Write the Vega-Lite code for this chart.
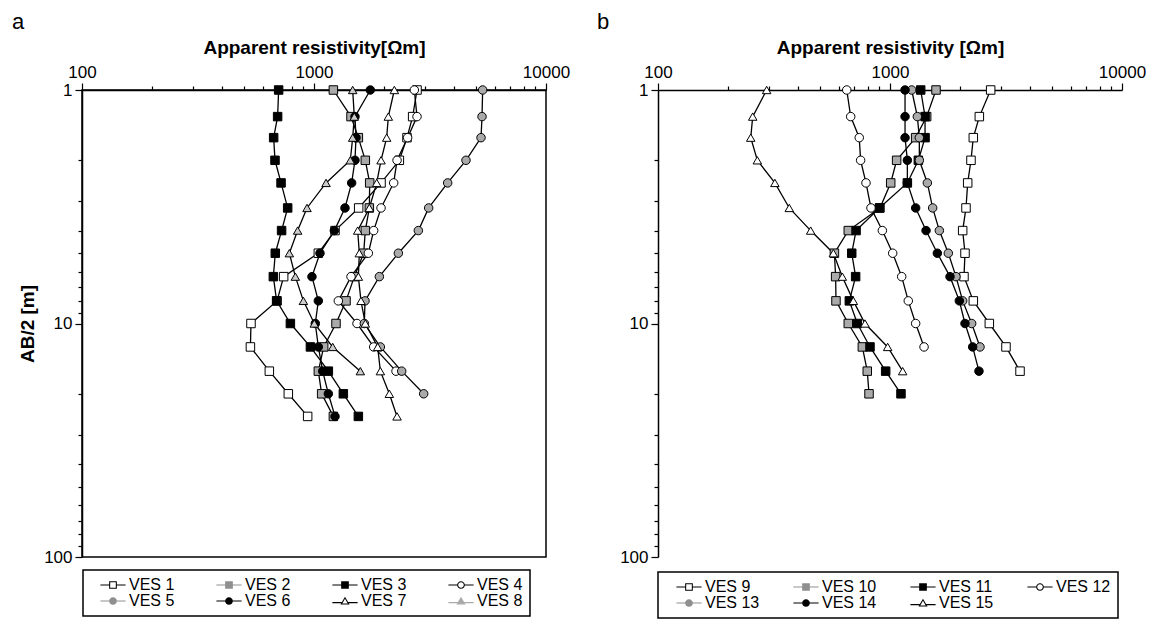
{
  "$schema": "https://vega.github.io/schema/vega-lite/v6.json",
  "padding": {"left": 11, "top": 10, "right": 0, "bottom": 0},
  "config": {
    "font": "Liberation Sans",
    "view": {"stroke": null},
    "concat": {"spacing": 26},
    "axis": {
      "grid": false, "domainColor": "black", "domainWidth": 1.5, "tickColor": "black", "tickWidth": 1.2,
      "labelColor": "black", "labelFontSize": 17, "labelFont": "Liberation Sans", "labelFlush": false, "labelOverlap": false, "labelBound": false,
      "titleColor": "black", "titleFont": "Liberation Sans", "titleFontSize": 19, "titleFontWeight": "bold"
    },
    "legend": {
      "orient": "none", "columns": 4, "direction": "horizontal", "strokeColor": "black", "strokeWidth": 1.5, "padding": 7,
      "labelFontSize": 16, "labelFont": "Liberation Sans", "labelColor": "black", "symbolSize": 49, "symbolStrokeWidth": 0, "symbolStrokeColor": "transparent",
      "symbolOpacity": 1, "rowPadding": 0
    }
  },
  "datasets": {
    "a": [
      {"s":"VES 1","ab":1,"rho":2780},{"s":"VES 1","ab":1.3,"rho":2662},{"s":"VES 1","ab":1.6,"rho":2517},{"s":"VES 1","ab":2,"rho":2333},{"s":"VES 1","ab":2.5,"rho":1945},{"s":"VES 1","ab":3.2,"rho":1558},{"s":"VES 1","ab":4,"rho":1232},{"s":"VES 1","ab":5,"rho":1044},{"s":"VES 1","ab":6.3,"rho":740},{"s":"VES 1","ab":8,"rho":693},{"s":"VES 1","ab":10,"rho":535},{"s":"VES 1","ab":12.6,"rho":532},{"s":"VES 1","ab":16,"rho":642},{"s":"VES 1","ab":20,"rho":775},{"s":"VES 1","ab":25,"rho":939},
      {"s":"VES 2","ab":1,"rho":1212},{"s":"VES 2","ab":1.3,"rho":1444},{"s":"VES 2","ab":1.6,"rho":1553},{"s":"VES 2","ab":2,"rho":1664},{"s":"VES 2","ab":2.5,"rho":1738},{"s":"VES 2","ab":3.2,"rho":1732},{"s":"VES 2","ab":4,"rho":1664},{"s":"VES 2","ab":5,"rho":1637},{"s":"VES 2","ab":6.3,"rho":1492},{"s":"VES 2","ab":8,"rho":1374},{"s":"VES 2","ab":10,"rho":1244},{"s":"VES 2","ab":12.6,"rho":1101},{"s":"VES 2","ab":16,"rho":1044},{"s":"VES 2","ab":20,"rho":1079},{"s":"VES 2","ab":25,"rho":1212},
      {"s":"VES 3","ab":1,"rho":704},{"s":"VES 3","ab":1.3,"rho":697},{"s":"VES 3","ab":1.6,"rho":670},{"s":"VES 3","ab":2,"rho":679},{"s":"VES 3","ab":2.5,"rho":721},{"s":"VES 3","ab":3.2,"rho":770},{"s":"VES 3","ab":4,"rho":725},{"s":"VES 3","ab":5,"rho":681},{"s":"VES 3","ab":6.3,"rho":668},{"s":"VES 3","ab":8,"rho":690},{"s":"VES 3","ab":10,"rho":791},{"s":"VES 3","ab":12.6,"rho":965},{"s":"VES 3","ab":16,"rho":1153},{"s":"VES 3","ab":20,"rho":1338},{"s":"VES 3","ab":25,"rho":1553},
      {"s":"VES 4","ab":1,"rho":2707},{"s":"VES 4","ab":1.3,"rho":2780},{"s":"VES 4","ab":1.6,"rho":2533},{"s":"VES 4","ab":2,"rho":2280},{"s":"VES 4","ab":2.5,"rho":2205},{"s":"VES 4","ab":3.2,"rho":1945},{"s":"VES 4","ab":4,"rho":1808},{"s":"VES 4","ab":5,"rho":1715},{"s":"VES 4","ab":6.3,"rho":1444},{"s":"VES 4","ab":8,"rho":1273},{"s":"VES 4","ab":10,"rho":1532},{"s":"VES 4","ab":12.6,"rho":1808},{"s":"VES 4","ab":16,"rho":2257},
      {"s":"VES 5","ab":1,"rho":5333},{"s":"VES 5","ab":1.3,"rho":5299},{"s":"VES 5","ab":1.6,"rho":5247},{"s":"VES 5","ab":2,"rho":4520},{"s":"VES 5","ab":2.5,"rho":3768},{"s":"VES 5","ab":3.2,"rho":3121},{"s":"VES 5","ab":4,"rho":2817},{"s":"VES 5","ab":5,"rho":2310},{"s":"VES 5","ab":6.3,"rho":1913},{"s":"VES 5","ab":8,"rho":1659},{"s":"VES 5","ab":10,"rho":1648},{"s":"VES 5","ab":12.6,"rho":1932},{"s":"VES 5","ab":16,"rho":2388},{"s":"VES 5","ab":20,"rho":2970},
      {"s":"VES 6","ab":1,"rho":1749},{"s":"VES 6","ab":1.3,"rho":1502},{"s":"VES 6","ab":1.6,"rho":1517},{"s":"VES 6","ab":2,"rho":1502},{"s":"VES 6","ab":2.5,"rho":1453},{"s":"VES 6","ab":3.2,"rho":1360},{"s":"VES 6","ab":4,"rho":1224},{"s":"VES 6","ab":5,"rho":1061},{"s":"VES 6","ab":6.3,"rho":980},{"s":"VES 6","ab":8,"rho":1044},{"s":"VES 6","ab":10,"rho":1013},{"s":"VES 6","ab":12.6,"rho":1044},{"s":"VES 6","ab":16,"rho":1090},{"s":"VES 6","ab":20,"rho":1153},{"s":"VES 6","ab":25,"rho":1232},
      {"s":"VES 7","ab":1,"rho":2220},{"s":"VES 7","ab":1.3,"rho":2091},{"s":"VES 7","ab":1.6,"rho":2057},{"s":"VES 7","ab":2,"rho":1945},{"s":"VES 7","ab":2.5,"rho":1863},{"s":"VES 7","ab":3.2,"rho":1732},{"s":"VES 7","ab":4,"rho":1543},{"s":"VES 7","ab":5,"rho":1568},{"s":"VES 7","ab":6.3,"rho":1553},{"s":"VES 7","ab":8,"rho":1594},{"s":"VES 7","ab":10,"rho":1664},{"s":"VES 7","ab":12.6,"rho":1881},{"s":"VES 7","ab":16,"rho":1932},{"s":"VES 7","ab":20,"rho":2112},{"s":"VES 7","ab":25,"rho":2280},
      {"s":"VES 8","ab":1,"rho":1468},{"s":"VES 8","ab":1.3,"rho":1492},{"s":"VES 8","ab":1.6,"rho":1468},{"s":"VES 8","ab":2,"rho":1434},{"s":"VES 8","ab":2.5,"rho":1127},{"s":"VES 8","ab":3.2,"rho":933},{"s":"VES 8","ab":4,"rho":850},{"s":"VES 8","ab":5,"rho":783},{"s":"VES 8","ab":6.3,"rho":831},{"s":"VES 8","ab":8,"rho":900},{"s":"VES 8","ab":10,"rho":1003},{"s":"VES 8","ab":12.6,"rho":1204},{"s":"VES 8","ab":16,"rho":1584}
    ],
    "b": [
      {"s":"VES 9","ab":1,"rho":2716},{"s":"VES 9","ab":1.3,"rho":2427},{"s":"VES 9","ab":1.6,"rho":2286},{"s":"VES 9","ab":2,"rho":2234},{"s":"VES 9","ab":2.5,"rho":2162},{"s":"VES 9","ab":3.2,"rho":2126},{"s":"VES 9","ab":4,"rho":2057},{"s":"VES 9","ab":5,"rho":2105},{"s":"VES 9","ab":6.3,"rho":2084},{"s":"VES 9","ab":8,"rho":2286},{"s":"VES 9","ab":10,"rho":2680},{"s":"VES 9","ab":12.6,"rho":3162},{"s":"VES 9","ab":16,"rho":3635},
      {"s":"VES 10","ab":1,"rho":1579},{"s":"VES 10","ab":1.3,"rho":1439},{"s":"VES 10","ab":1.6,"rho":1290},{"s":"VES 10","ab":2,"rho":1068},{"s":"VES 10","ab":2.5,"rho":1007},{"s":"VES 10","ab":3.2,"rho":905},{"s":"VES 10","ab":4,"rho":661},{"s":"VES 10","ab":5,"rho":576},{"s":"VES 10","ab":6.3,"rho":583},{"s":"VES 10","ab":8,"rho":585},{"s":"VES 10","ab":10,"rho":661},{"s":"VES 10","ab":12.6,"rho":760},{"s":"VES 10","ab":16,"rho":798},{"s":"VES 10","ab":20,"rho":812},
      {"s":"VES 11","ab":1,"rho":1356},{"s":"VES 11","ab":1.3,"rho":1416},{"s":"VES 11","ab":1.6,"rho":1416},{"s":"VES 11","ab":2,"rho":1325},{"s":"VES 11","ab":2.5,"rho":1188},{"s":"VES 11","ab":3.2,"rho":900},{"s":"VES 11","ab":4,"rho":714},{"s":"VES 11","ab":5,"rho":684},{"s":"VES 11","ab":6.3,"rho":711},{"s":"VES 11","ab":8,"rho":668},{"s":"VES 11","ab":10,"rho":723},{"s":"VES 11","ab":12.6,"rho":820},{"s":"VES 11","ab":16,"rho":958},{"s":"VES 11","ab":20,"rho":1115},
      {"s":"VES 12","ab":1,"rho":651},{"s":"VES 12","ab":1.3,"rho":677},{"s":"VES 12","ab":1.6,"rho":737},{"s":"VES 12","ab":2,"rho":747},{"s":"VES 12","ab":2.5,"rho":788},{"s":"VES 12","ab":3.2,"rho":828},{"s":"VES 12","ab":4,"rho":927},{"s":"VES 12","ab":5,"rho":1027},{"s":"VES 12","ab":6.3,"rho":1123},{"s":"VES 12","ab":8,"rho":1199},{"s":"VES 12","ab":10,"rho":1290},{"s":"VES 12","ab":12.6,"rho":1402},
      {"s":"VES 13","ab":1,"rho":1240},{"s":"VES 13","ab":1.3,"rho":1312},{"s":"VES 13","ab":1.6,"rho":1338},{"s":"VES 13","ab":2,"rho":1338},{"s":"VES 13","ab":2.5,"rho":1449},{"s":"VES 13","ab":3.2,"rho":1527},{"s":"VES 13","ab":4,"rho":1632},{"s":"VES 13","ab":5,"rho":1784},{"s":"VES 13","ab":6.3,"rho":1925},{"s":"VES 13","ab":8,"rho":2057},{"s":"VES 13","ab":10,"rho":2249},{"s":"VES 13","ab":12.6,"rho":2443},
      {"s":"VES 14","ab":1,"rho":1161},{"s":"VES 14","ab":1.3,"rho":1161},{"s":"VES 14","ab":1.6,"rho":1161},{"s":"VES 14","ab":2,"rho":1188},{"s":"VES 14","ab":2.5,"rho":1188},{"s":"VES 14","ab":3.2,"rho":1290},{"s":"VES 14","ab":4,"rho":1430},{"s":"VES 14","ab":5,"rho":1600},{"s":"VES 14","ab":6.3,"rho":1814},{"s":"VES 14","ab":8,"rho":1990},{"s":"VES 14","ab":10,"rho":2105},{"s":"VES 14","ab":12.6,"rho":2271},{"s":"VES 14","ab":16,"rho":2418},
      {"s":"VES 15","ab":1,"rho":294},{"s":"VES 15","ab":1.3,"rho":256},{"s":"VES 15","ab":1.6,"rho":251},{"s":"VES 15","ab":2,"rho":268},{"s":"VES 15","ab":2.5,"rho":319},{"s":"VES 15","ab":3.2,"rho":368},{"s":"VES 15","ab":4,"rho":455},{"s":"VES 15","ab":5,"rho":570},{"s":"VES 15","ab":6.3,"rho":623},{"s":"VES 15","ab":8,"rho":695},{"s":"VES 15","ab":10,"rho":780},{"s":"VES 15","ab":12.6,"rho":977},{"s":"VES 15","ab":16,"rho":1134}
    ]
  },
  "hconcat": [
    {
      "width": 464, "height": 467,
      "view": {"stroke": "black", "strokeWidth": 1.5},
      "title": {"text": "a", "anchor": "start", "frame": "group", "dx": -70, "fontSize": 22, "fontWeight": "normal", "color": "black", "offset": 4},
      "data": {"name": "a"},
      "encoding": {
        "x": {"field": "rho", "type": "quantitative", "scale": {"type": "log", "domain": [100, 10000]},
          "axis": {"orient": "top", "values": [100,200,300,400,500,600,700,800,900,1000,2000,3000,4000,5000,6000,7000,8000,9000,10000],
            "labelExpr": "(datum.value==100||datum.value==1000||datum.value==10000) ? format(datum.value,'d') : ''",
            "tickSize": {"condition": {"test": "datum.value==100||datum.value==1000||datum.value==10000", "value": 7}, "value": 4},
            "labelPadding": 2, "title": "Apparent resistivity[Ωm]", "titlePadding": 6}},
        "y": {"field": "ab", "type": "quantitative", "scale": {"type": "log", "domain": [1, 100], "reverse": true},
          "axis": {"values": [1,2,3,4,5,6,7,8,9,10,20,30,40,50,60,70,80,90,100],
            "labelExpr": "(datum.value==1||datum.value==10||datum.value==100) ? format(datum.value,'d') : ''",
            "tickSize": {"condition": {"test": "datum.value==1||datum.value==10||datum.value==100", "value": 7}, "value": 4},
            "labelPadding": 3, "title": "AB/2 [m]", "titlePadding": 6}}
      },
      "layer": [
        {"mark": {"type": "line", "color": "black", "strokeWidth": 1.3}, "encoding": {"detail": {"field": "s"}, "order": {"field": "ab", "type": "quantitative"}}},
        {"mark": {"type": "point", "filled": true, "size": 72, "stroke": "black", "strokeWidth": 1, "opacity": 1},
          "encoding": {
            "shape": {"field": "s", "type": "nominal", "legend": null, "scale": {"domain": ["VES 1","VES 2","VES 3","VES 4","VES 5","VES 6","VES 7","VES 8"], "range": ["square","square","square","circle","circle","circle","triangle-up","triangle-up"]}},
            "fill": {"field": "s", "type": "nominal", "legend": null, "scale": {"domain": ["VES 1","VES 2","VES 3","VES 4","VES 5","VES 6","VES 7","VES 8"], "range": ["white","#aaaaaa","black","white","#aaaaaa","black","white","#cccccc"]}}
          }},
        {"transform": [{"filter": "false"}],
          "mark": {"type": "point", "filled": true, "opacity": 1},
          "encoding": {
            "shape": {"field": "s", "type": "nominal",
              "legend": {"title": null, "legendX": 1, "legendY": 480, "columnPadding": 31, "symbolOffset": 15, "labelOffset": 8},
              "scale": {"domain": ["VES 1","VES 2","VES 3","VES 4","VES 5","VES 6","VES 7","VES 8"],
                "range": [
                  "M-1.1,-1.1H1.1V1.1H-1.1ZM-0.8,-0.8V0.8H0.8V-0.8ZM-3.6,-0.17H-1.1V0.17H-3.6ZM1.1,-0.17H3.6V0.17H1.1Z",
                  "M-1.1,-1.1H1.1V1.1H-1.1ZM-3.6,-0.17H-1.1V0.17H-3.6ZM1.1,-0.17H3.6V0.17H1.1Z",
                  "M-1.1,-1.1H1.1V1.1H-1.1ZM-3.6,-0.17H-1.1V0.17H-3.6ZM1.1,-0.17H3.6V0.17H1.1Z",
                  "M-1.1,0A1.1,1.1,0,1,1,1.1,0A1.1,1.1,0,1,1,-1.1,0ZM-0.8,0A0.8,0.8,0,1,0,0.8,0A0.8,0.8,0,1,0,-0.8,0ZM-3.6,-0.17H-1.05V0.17H-3.6ZM1.05,-0.17H3.6V0.17H1.05Z",
                  "M-1.1,0A1.1,1.1,0,1,1,1.1,0A1.1,1.1,0,1,1,-1.1,0ZM-3.6,-0.17H-1.05V0.17H-3.6ZM1.05,-0.17H3.6V0.17H1.05Z",
                  "M-1.1,0A1.1,1.1,0,1,1,1.1,0A1.1,1.1,0,1,1,-1.1,0ZM-3.6,-0.17H-1.05V0.17H-3.6ZM1.05,-0.17H3.6V0.17H1.05Z",
                  "M0,-1.2L1.3,1L-1.3,1ZM0,-0.61L-0.774,0.7L0.774,0.7ZM-3.6,0.28H-0.95V0.62H-3.6ZM0.95,0.28H3.6V0.62H0.95Z",
                  "M0,-1.2L1.3,1L-1.3,1ZM-3.6,0.28H-0.95V0.62H-3.6ZM0.95,0.28H3.6V0.62H0.95Z"]}},
            "fill": {"field": "s", "type": "nominal",
              "legend": {"title": null, "legendX": 1, "legendY": 480, "columnPadding": 31, "symbolOffset": 15, "labelOffset": 8},
              "scale": {"domain": ["VES 1","VES 2","VES 3","VES 4","VES 5","VES 6","VES 7","VES 8"], "range": ["black","#8f8f8f","black","black","#8f8f8f","black","black","#aaaaaa"]}}
          }}
      ],
      "resolve": {"scale": {"shape": "independent", "fill": "independent"}}
    },
    {
      "width": 464, "height": 467,
      "title": {"text": "b", "anchor": "start", "frame": "group", "dx": -61, "fontSize": 22, "fontWeight": "normal", "color": "black", "offset": 4},
      "data": {"name": "b"},
      "encoding": {
        "x": {"field": "rho", "type": "quantitative", "scale": {"type": "log", "domain": [100, 10000]},
          "axis": {"orient": "top", "values": [100,200,300,400,500,600,700,800,900,1000,2000,3000,4000,5000,6000,7000,8000,9000,10000],
            "labelExpr": "(datum.value==100||datum.value==1000||datum.value==10000) ? format(datum.value,'d') : ''",
            "tickSize": {"condition": {"test": "datum.value==100||datum.value==1000||datum.value==10000", "value": 7}, "value": 4},
            "labelPadding": 2, "title": "Apparent resistivity [Ωm]", "titlePadding": 6}},
        "y": {"field": "ab", "type": "quantitative", "scale": {"type": "log", "domain": [1, 100], "reverse": true},
          "axis": {"values": [1,2,3,4,5,6,7,8,9,10,20,30,40,50,60,70,80,90,100],
            "labelExpr": "(datum.value==1||datum.value==10||datum.value==100) ? format(datum.value,'d') : ''",
            "tickSize": {"condition": {"test": "datum.value==1||datum.value==10||datum.value==100", "value": 7}, "value": 4},
            "labelPadding": 3, "title": null}}
      },
      "layer": [
        {"mark": {"type": "line", "color": "black", "strokeWidth": 1.3}, "encoding": {"detail": {"field": "s"}, "order": {"field": "ab", "type": "quantitative"}}},
        {"mark": {"type": "point", "filled": true, "size": 72, "stroke": "black", "strokeWidth": 1, "opacity": 1},
          "encoding": {
            "shape": {"field": "s", "type": "nominal", "legend": null, "scale": {"domain": ["VES 9","VES 10","VES 11","VES 12","VES 13","VES 14","VES 15"], "range": ["square","square","square","circle","circle","circle","triangle-up"]}},
            "fill": {"field": "s", "type": "nominal", "legend": null, "scale": {"domain": ["VES 9","VES 10","VES 11","VES 12","VES 13","VES 14","VES 15"], "range": ["white","#aaaaaa","black","white","#aaaaaa","black","white"]}}
          }},
        {"transform": [{"filter": "false"}],
          "mark": {"type": "point", "filled": true, "opacity": 1},
          "encoding": {
            "shape": {"field": "s", "type": "nominal",
              "legend": {"title": null, "legendX": 0, "legendY": 482, "columnPadding": 22, "symbolOffset": 16, "labelOffset": 8},
              "scale": {"domain": ["VES 9","VES 10","VES 11","VES 12","VES 13","VES 14","VES 15"],
                "range": [
                  "M-1.1,-1.1H1.1V1.1H-1.1ZM-0.8,-0.8V0.8H0.8V-0.8ZM-3.6,-0.17H-1.1V0.17H-3.6ZM1.1,-0.17H3.6V0.17H1.1Z",
                  "M-1.1,-1.1H1.1V1.1H-1.1ZM-3.6,-0.17H-1.1V0.17H-3.6ZM1.1,-0.17H3.6V0.17H1.1Z",
                  "M-1.1,-1.1H1.1V1.1H-1.1ZM-3.6,-0.17H-1.1V0.17H-3.6ZM1.1,-0.17H3.6V0.17H1.1Z",
                  "M-1.1,0A1.1,1.1,0,1,1,1.1,0A1.1,1.1,0,1,1,-1.1,0ZM-0.8,0A0.8,0.8,0,1,0,0.8,0A0.8,0.8,0,1,0,-0.8,0ZM-3.6,-0.17H-1.05V0.17H-3.6ZM1.05,-0.17H3.6V0.17H1.05Z",
                  "M-1.1,0A1.1,1.1,0,1,1,1.1,0A1.1,1.1,0,1,1,-1.1,0ZM-3.6,-0.17H-1.05V0.17H-3.6ZM1.05,-0.17H3.6V0.17H1.05Z",
                  "M-1.1,0A1.1,1.1,0,1,1,1.1,0A1.1,1.1,0,1,1,-1.1,0ZM-3.6,-0.17H-1.05V0.17H-3.6ZM1.05,-0.17H3.6V0.17H1.05Z",
                  "M0,-1.2L1.3,1L-1.3,1ZM0,-0.61L-0.774,0.7L0.774,0.7ZM-3.6,0.28H-0.95V0.62H-3.6ZM0.95,0.28H3.6V0.62H0.95Z"]}},
            "fill": {"field": "s", "type": "nominal",
              "legend": {"title": null, "legendX": 0, "legendY": 482, "columnPadding": 22, "symbolOffset": 16, "labelOffset": 8},
              "scale": {"domain": ["VES 9","VES 10","VES 11","VES 12","VES 13","VES 14","VES 15"], "range": ["black","#8f8f8f","black","black","#8f8f8f","black","black"]}}
          }}
      ],
      "resolve": {"scale": {"shape": "independent", "fill": "independent"}}
    }
  ]
}
